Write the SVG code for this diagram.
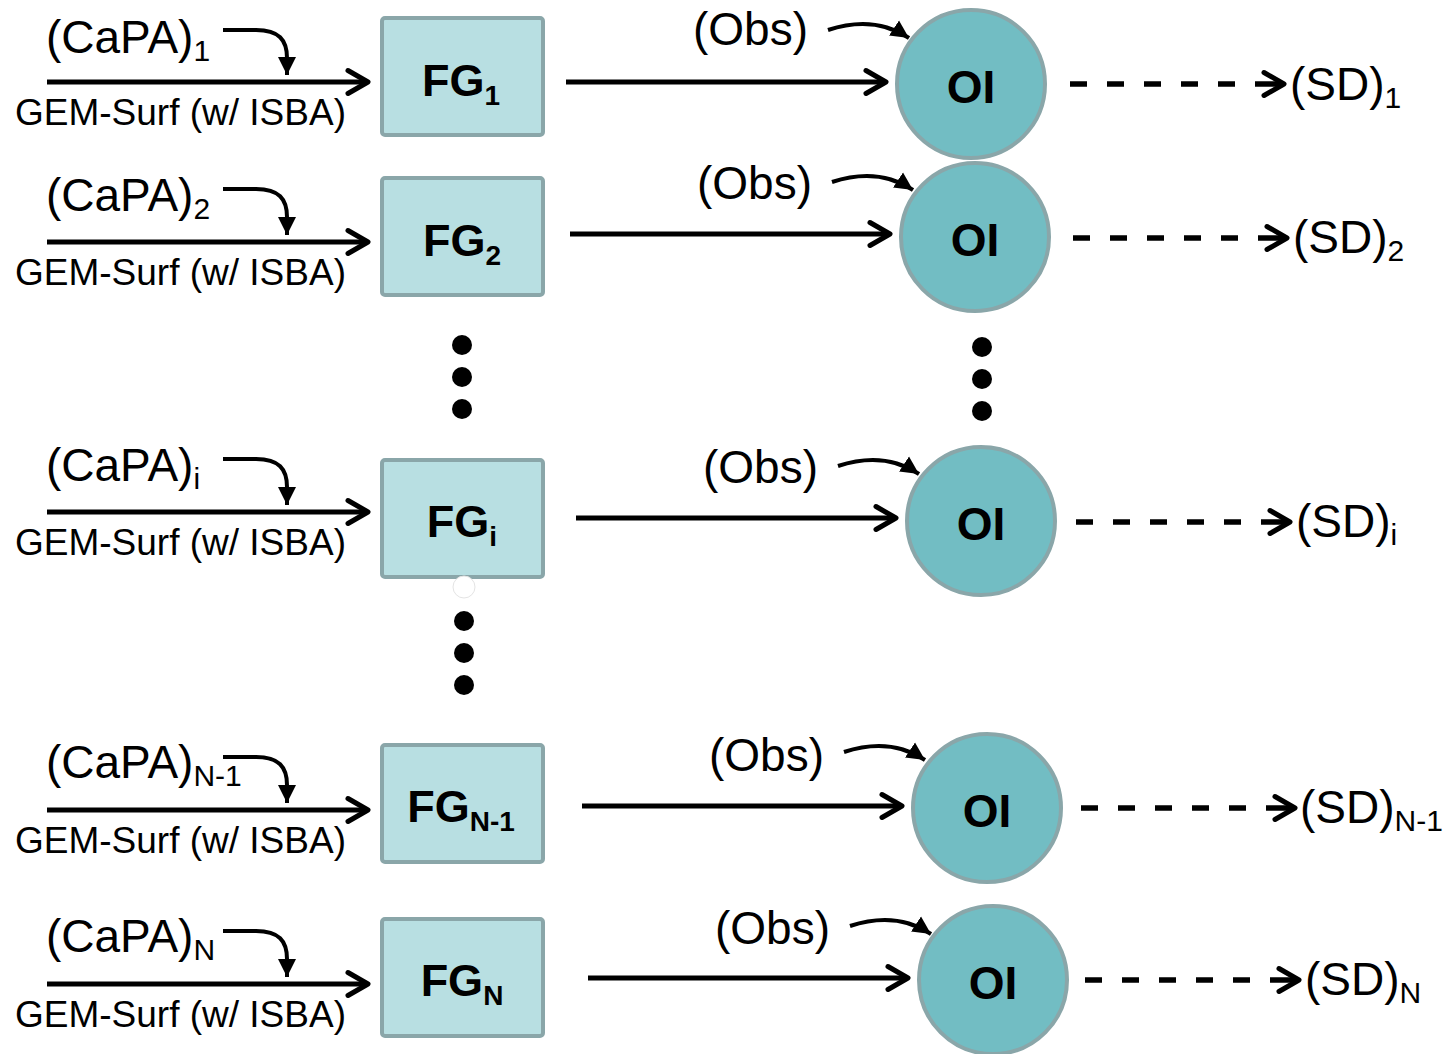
<svg xmlns="http://www.w3.org/2000/svg" width="1451" height="1054" viewBox="0 0 1451 1054">
<style>
.t{font-family:"Liberation Sans",Arial,sans-serif;fill:#000}
.lab{font-size:46px}
.gem{font-size:37px}
.b{font-size:45px;font-weight:bold;text-anchor:middle}
.o{font-size:46px}
.box{fill:#b8dfe2;stroke:#8aa6a9;stroke-width:4}
.oi{fill:#72bdc3;stroke:#8aa6a9;stroke-width:4}
.ln{fill:none;stroke:#000;stroke-width:5}
.dash{fill:none;stroke:#000;stroke-width:5.5;stroke-dasharray:17 20}
.dsolid{fill:none;stroke:#000;stroke-width:5.5}
.cv{fill:none;stroke:#000;stroke-width:4}
</style>
<defs>
<marker id="chev" markerUnits="userSpaceOnUse" markerWidth="30" markerHeight="30" refX="24" refY="15" orient="auto" viewBox="0 0 30 30">
<path d="M4,3.5 L24,15 L4,26.5" fill="none" stroke="#000" stroke-width="5" stroke-linecap="round" stroke-linejoin="round"/>
</marker>
<marker id="tri" markerUnits="userSpaceOnUse" markerWidth="22" markerHeight="22" refX="18" refY="10" orient="auto" viewBox="0 0 22 20">
<path d="M0,1 L18,10 L0,19 Z" fill="#000"/>
</marker>
</defs>

<g id="connectors">
<!-- row 1 -->
<path class="ln" d="M47,82 H368" marker-end="url(#chev)"/>
<path class="cv" d="M223,30 H256 C279,30 287,40 287,58 V75" marker-end="url(#tri)"/>
<path class="ln" d="M566,82 H886" marker-end="url(#chev)"/>
<path class="cv" d="M828,30 C858,20 885,22 909,38" marker-end="url(#tri)"/>
<path class="dash" d="M1070,84 H1250"/>
<path class="dsolid" d="M1255,84 H1284" marker-end="url(#chev)"/>
<!-- row 2 -->
<path class="ln" d="M47,242 H368" marker-end="url(#chev)"/>
<path class="cv" d="M223,189 H256 C279,189 287,199 287,217 V235" marker-end="url(#tri)"/>
<path class="ln" d="M570,234 H890" marker-end="url(#chev)"/>
<path class="cv" d="M832,182 C862,172 889,174 913,190" marker-end="url(#tri)"/>
<path class="dash" d="M1073,238 H1253"/>
<path class="dsolid" d="M1258,238 H1287" marker-end="url(#chev)"/>
<!-- row i -->
<path class="ln" d="M47,512 H368" marker-end="url(#chev)"/>
<path class="cv" d="M223,459 H256 C279,459 287,469 287,487 V505" marker-end="url(#tri)"/>
<path class="ln" d="M576,518 H896" marker-end="url(#chev)"/>
<path class="cv" d="M838,466 C868,456 895,458 919,474" marker-end="url(#tri)"/>
<path class="dash" d="M1076,522 H1256"/>
<path class="dsolid" d="M1261,522 H1290" marker-end="url(#chev)"/>
<!-- row N-1 -->
<path class="ln" d="M47,810 H368" marker-end="url(#chev)"/>
<path class="cv" d="M223,757 H256 C279,757 287,767 287,785 V803" marker-end="url(#tri)"/>
<path class="ln" d="M582,806 H902" marker-end="url(#chev)"/>
<path class="cv" d="M844,752 C874,742 901,744 925,760" marker-end="url(#tri)"/>
<path class="dash" d="M1081,808 H1261"/>
<path class="dsolid" d="M1266,808 H1295" marker-end="url(#chev)"/>
<!-- row N -->
<path class="ln" d="M47,984 H368" marker-end="url(#chev)"/>
<path class="cv" d="M223,931 H256 C279,931 287,941 287,959 V977" marker-end="url(#tri)"/>
<path class="ln" d="M588,978 H908" marker-end="url(#chev)"/>
<path class="cv" d="M850,926 C880,916 907,918 931,934" marker-end="url(#tri)"/>
<path class="dash" d="M1085,980 H1265"/>
<path class="dsolid" d="M1270,980 H1299" marker-end="url(#chev)"/>
</g>

<g id="labels">
<text class="t lab" x="46" y="53">(CaPA)<tspan font-size="30" dy="8">1</tspan></text>
<text class="t gem" x="15" y="125">GEM-Surf (w/ ISBA)</text>
<text class="t lab" x="46" y="211">(CaPA)<tspan font-size="30" dy="8">2</tspan></text>
<text class="t gem" x="15" y="285">GEM-Surf (w/ ISBA)</text>
<text class="t lab" x="46" y="481">(CaPA)<tspan font-size="30" dy="8">i</tspan></text>
<text class="t gem" x="15" y="555">GEM-Surf (w/ ISBA)</text>
<text class="t lab" x="46" y="778">(CaPA)<tspan font-size="30" dy="8">N-1</tspan></text>
<text class="t gem" x="15" y="853">GEM-Surf (w/ ISBA)</text>
<text class="t lab" x="46" y="952">(CaPA)<tspan font-size="30" dy="8">N</tspan></text>
<text class="t gem" x="15" y="1027">GEM-Surf (w/ ISBA)</text>

<text class="t lab" x="693" y="45">(Obs)</text>
<text class="t lab" x="697" y="199">(Obs)</text>
<text class="t lab" x="703" y="483">(Obs)</text>
<text class="t lab" x="709" y="771">(Obs)</text>
<text class="t lab" x="715" y="944">(Obs)</text>

<text class="t lab" x="1290" y="100">(SD)<tspan font-size="30" dy="8">1</tspan></text>
<text class="t lab" x="1293" y="253">(SD)<tspan font-size="30" dy="8">2</tspan></text>
<text class="t lab" x="1296" y="537">(SD)<tspan font-size="30" dy="8">i</tspan></text>
<text class="t lab" x="1300" y="823">(SD)<tspan font-size="30" dy="8">N-1</tspan></text>
<text class="t lab" x="1305" y="995">(SD)<tspan font-size="30" dy="8">N</tspan></text>
</g>

<g id="fg1"><rect class="box" x="382" y="18" width="161" height="117" rx="3"/><text class="t b" x="461" y="96">FG<tspan font-size="28" dy="9">1</tspan></text></g>
<g id="fg2"><rect class="box" x="382" y="178" width="161" height="117" rx="3"/><text class="t b" x="462" y="256">FG<tspan font-size="28" dy="9">2</tspan></text></g>
<g id="fgi"><rect class="box" x="382" y="460" width="161" height="117" rx="3"/><text class="t b" x="462" y="537">FG<tspan font-size="28" dy="9">i</tspan></text></g>
<g id="fgn1"><rect class="box" x="382" y="745" width="161" height="117" rx="3"/><text class="t b" x="461" y="822">FG<tspan font-size="28" dy="9">N-1</tspan></text></g>
<g id="fgn"><rect class="box" x="382" y="919" width="161" height="117" rx="3"/><text class="t b" x="462" y="996">FG<tspan font-size="28" dy="9">N</tspan></text></g>

<g id="oi1"><circle class="oi" cx="971" cy="84" r="74"/><text class="t b o" x="971" y="103">OI</text></g>
<g id="oi2"><circle class="oi" cx="975" cy="237" r="74"/><text class="t b o" x="975" y="256">OI</text></g>
<g id="oii"><circle class="oi" cx="981" cy="521" r="74"/><text class="t b o" x="981" y="540">OI</text></g>
<g id="oin1"><circle class="oi" cx="987" cy="808" r="74"/><text class="t b o" x="987" y="827">OI</text></g>
<g id="oin"><circle class="oi" cx="993" cy="980" r="74"/><text class="t b o" x="993" y="999">OI</text></g>

<g id="dots">
<circle cx="462" cy="345" r="10"/><circle cx="462" cy="377" r="10"/><circle cx="462" cy="409" r="10"/>
<circle cx="982" cy="347" r="10"/><circle cx="982" cy="379" r="10"/><circle cx="982" cy="411" r="10"/>
<circle cx="464" cy="587" r="11" fill="#fff" stroke="#e4e4e4" stroke-width="1"/>
<circle cx="464" cy="621" r="10"/><circle cx="464" cy="653" r="10"/><circle cx="464" cy="685" r="10"/>
</g>
</svg>
